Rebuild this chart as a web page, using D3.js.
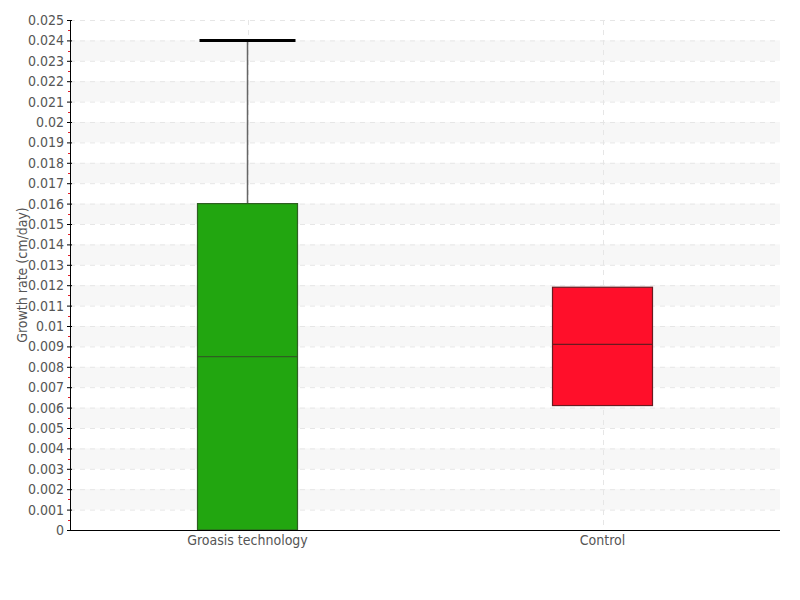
<!DOCTYPE html>
<html><head><meta charset="utf-8">
<script src="https://cdn.jsdelivr.net/npm/d3@7"></script>
<style>
body{margin:0;background:#fff;}
text{font-family:"Liberation Sans Narrow","DejaVu Sans Condensed",sans-serif;fill:#555;}
</style></head>
<body><svg id="c" width="800" height="600"></svg>
<script>
const categories = ["Groasis technology", "Control"];
const q1Values = [0, 0.0061];
const medianValues = [0.0085, 0.0091];
const q3Values = [0.016, 0.0119];
const whiskerHigh = [0.024, null];
const colors = ["#22a610", "#ff0f2a"];
const strokeColors = ["#2f5f22", "#6a1a20"];
const yTicks = d3.range(0, 26).map(i => +(i * 0.001).toFixed(3));
const yLabel = "Growth rate (cm/day)";

const svg = d3.select("#c");
const m = {l:70, r:780, t:20, b:530};
const y = d3.scaleLinear().domain([0, 0.025]).range([m.b, m.t]);
const x = d3.scaleBand().domain(categories).range([m.l, m.r]);
const boxW = 100;

// bands
const bands = d3.range(0, 12).map(k => [(2*k+1)*0.001, (2*k+2)*0.001]);
svg.append("g").selectAll("rect").data(bands).join("rect")
  .attr("x", m.l).attr("width", m.r - m.l)
  .attr("y", d => y(d[1])).attr("height", d => y(d[0]) - y(d[1]))
  .attr("fill", "#f7f7f7");
// horizontal grid
svg.append("g").selectAll("line").data(yTicks.slice(1)).join("line")
  .attr("x1", m.l).attr("x2", m.r)
  .attr("y1", d => y(d)+0.5).attr("y2", d => y(d)+0.5)
  .attr("stroke", "#e6e6e6").attr("stroke-dasharray", "5,5");
// vertical grid
svg.append("g").selectAll("line").data(categories).join("line")
  .attr("x1", d => Math.round(x(d) + x.bandwidth()/2)+0.5).attr("x2", d => Math.round(x(d) + x.bandwidth()/2)+0.5)
  .attr("y1", m.t).attr("y2", m.b)
  .attr("stroke", "#e6e6e6").attr("stroke-dasharray", "5,5");

// minor ticks
const minor = d3.range(0, 25).map(i => (i + 0.5) * 0.001);
svg.append("g").selectAll("line").data(minor).join("line")
  .attr("x1", m.l - 2).attr("x2", m.l)
  .attr("y1", d => Math.round(y(d))+0.5).attr("y2", d => Math.round(y(d))+0.5)
  .attr("stroke", "#e0202a");

// y axis
const yAxis = svg.append("g").attr("transform", `translate(${m.l},0)`)
  .call(d3.axisLeft(y).tickValues(yTicks).tickFormat(d => String(d)).tickSize(3).tickPadding(3));
yAxis.select(".domain").attr("stroke", "#000");
yAxis.selectAll(".tick line").attr("stroke", "#000").attr("x2", 2).attr("x1", -3);
yAxis.selectAll("text").style("font-size", "14px").attr("fill", "#555");

// x axis
const xAxis = svg.append("g").attr("transform", `translate(0,${m.b})`)
  .call(d3.axisBottom(x).tickSize(0).tickPadding(5));
xAxis.select(".domain").attr("stroke", "#000").attr("d", `M${m.l},0.5H${m.r}`);
xAxis.selectAll("text").style("font-size", "14px").attr("fill", "#555");

// y label
svg.append("text").attr("transform", `translate(27,${(m.t+m.b)/2}) rotate(-90)`)
  .attr("text-anchor", "middle").style("font-size", "14px").text(yLabel);

// boxes
const data = categories.map((c, i) => ({c, q1:q1Values[i], med:medianValues[i], q3:q3Values[i], hi:whiskerHigh[i], col:colors[i], sc:strokeColors[i]}));
const g = svg.append("g");
data.forEach(d => {
  const cx = x(d.c) + x.bandwidth()/2;
  if (d.hi != null) {
    g.append("line").attr("x1", cx).attr("x2", cx).attr("y1", y(d.hi)).attr("y2", y(d.q3))
      .attr("stroke", "#666").attr("stroke-width", 1.5);
    g.append("line").attr("x1", cx - 48).attr("x2", cx + 48).attr("y1", y(d.hi)).attr("y2", y(d.hi))
      .attr("stroke", "#000").attr("stroke-width", 3);
  }
  g.append("rect").attr("x", cx - boxW/2).attr("width", boxW)
    .attr("y", y(d.q3)).attr("height", y(d.q1) - y(d.q3))
    .attr("fill", d.col).attr("stroke", d.sc).attr("stroke-width", 1.2);
  g.append("line").attr("x1", cx - boxW/2).attr("x2", cx + boxW/2)
    .attr("y1", y(d.med)).attr("y2", y(d.med))
    .attr("stroke", d.sc).attr("stroke-width", 1.2);
});
// redraw bottom axis line on top
svg.append("line").attr("x1", m.l).attr("x2", m.r).attr("y1", m.b+0.5).attr("y2", m.b+0.5).attr("stroke", "#000");
</script></body></html>
